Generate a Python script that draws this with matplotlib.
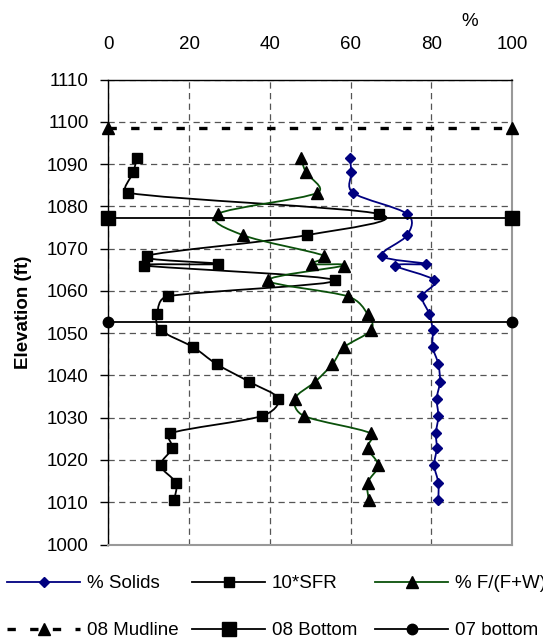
import numpy as np
import matplotlib
matplotlib.use("Agg")
import matplotlib.pyplot as plt
from matplotlib.path import Path
from matplotlib.patches import PathPatch
from matplotlib.lines import Line2D

plt.rcParams["font.family"] = ["Liberation Sans", "DejaVu Sans"]

# ---------------------------
# DATA
# ---------------------------
elevation = [1091.5, 1088.1, 1083.2, 1078.2, 1073.2, 1068.3, 1066.4, 1066.0,
             1062.5, 1058.7, 1054.5, 1050.7, 1046.7, 1042.7, 1038.5, 1034.5,
             1030.4, 1026.3, 1022.8, 1018.7, 1014.6, 1010.5]

pct_solids = [59.8, 60.2, 60.6, 74.0, 74.0, 67.7, 78.6, 71.0, 80.7, 77.7, 79.5,
              80.3, 80.3, 81.7, 82.1, 81.3, 81.7, 81.1, 81.3, 80.7, 81.7, 81.7]

sfr_x10 = [7.2, 6.2, 5.0, 67.0, 49.2, 9.5, 27.2, 8.9, 56.0, 14.7, 12.1,
           13.0, 21.0, 26.8, 34.9, 42.1, 38.0, 15.3, 15.8, 13.0, 16.7, 16.3]

pct_ffw = [47.6, 48.9, 51.7, 27.1, 33.3, 53.5, 50.5, 58.3, 39.6, 59.3, 64.2,
           65.0, 58.4, 55.5, 51.2, 46.2, 48.5, 65.0, 64.2, 66.8, 64.2, 64.5]

ref_x = [0, 100]
mudline_08 = 1098.6
bottom_08 = 1077.3
bottom_07 = 1052.6

x_ticks = [0, 20, 40, 60, 80, 100]
y_ticks = list(range(1000, 1111, 10))


def clamp(v, limit):
    m = np.hypot(*v)
    if m > limit and m > 0:
        return v * (limit / m)
    return v


def smooth_path(xs, ys):
    # excel-like smoothed line (catmull-rom beziers, handles capped on short segments)
    pts = np.column_stack([xs, ys])
    n = len(pts)
    verts = [pts[0]]
    codes = [Path.MOVETO]
    for i in range(n - 1):
        p0 = pts[max(i - 1, 0)]
        p1 = pts[i]
        p2 = pts[i + 1]
        p3 = pts[min(i + 2, n - 1)]
        seg = np.hypot(*(p2 - p1))
        c1 = p1 + clamp((p2 - p0) / 6.0, 0.5 * seg)
        c2 = p2 - clamp((p3 - p1) / 6.0, 0.5 * seg)
        verts += [c1, c2, p2]
        codes += [Path.CURVE4] * 3
    return Path(verts, codes)


fig = plt.figure(figsize=(5.43, 6.41), dpi=100)
ax = fig.add_axes([0.1994, 0.1505, 0.744, 0.7254])

# ---------------------------
# SERIES
# ---------------------------
series = [
    (pct_solids, "#000080", "#000080", "D", 5.6, "% Solids"),
    (sfr_x10, "black", "black", "s", 6.5, "10*SFR"),
    (pct_ffw, "#0A500A", "black", "^", 8, "% F/(F+W)"),
]

handles = []
for vals, lc, mc, mk, ms, lab in series:
    ax.add_patch(PathPatch(smooth_path(vals, elevation), fill=False,
                           edgecolor=lc, lw=1.3, zorder=3))
    ax.plot(vals, elevation, linestyle="none", marker=mk, ms=ms,
            color=mc, zorder=4, clip_on=False)
    handles.append(Line2D([], [], color=lc, lw=1.3, marker=mk, ms=ms,
                          markerfacecolor=mc, markeredgecolor=mc, label=lab))

mud, = ax.plot(ref_x, [mudline_08] * 2, color="black", lw=2.4,
               linestyle=(0, (2.5, 4.3)), marker="^", ms=9, clip_on=False,
               zorder=5, label="08 Mudline")
bot8, = ax.plot(ref_x, [bottom_08] * 2, color="black", lw=1.3, marker="s",
                ms=10, clip_on=False, zorder=5, label="08 Bottom")
bot7, = ax.plot(ref_x, [bottom_07] * 2, color="black", lw=1.3, marker="o",
                ms=7.5, clip_on=False, zorder=5, label="07 bottom")

# ---------------------------
# AXES
# ---------------------------
ax.set_xlim(0, 100)
ax.set_ylim(1000, 1110)
ax.set_xticks(x_ticks)
ax.set_yticks(y_ticks)
ax.xaxis.tick_top()
ax.xaxis.set_label_position("top")
ax.tick_params(axis="x", length=0, pad=19, labelsize=13.5)
ax.tick_params(axis="y", direction="out", length=5.5, width=1, pad=8.5,
               labelsize=13.5)
ax.grid(True, color="#555555", lw=0.9, linestyle=(0, (5, 3.5)), zorder=1)
ax.set_axisbelow(True)

for side in ["left", "top"]:
    ax.spines[side].set_color("black")
    ax.spines[side].set_linewidth(1.0)
for side in ["right", "bottom"]:
    ax.spines[side].set_color("#999999")
    ax.spines[side].set_linewidth(1.5)

ax.set_ylabel("Elevation (ft)", fontsize=13.5, fontweight="bold", labelpad=11)
ax.set_xlabel("%", fontsize=13.5, x=0.895, labelpad=7)

# ---------------------------
# LEGEND (three columns, two rows)
# ---------------------------
col_x = [7, 192, 375]
cols = [[handles[0], mud], [handles[1], bot8], [handles[2], bot7]]
for cx, hs in zip(col_x, cols):
    leg = fig.legend(handles=hs, loc="upper left",
                     bbox_to_anchor=(cx / 543, 1 - 575 / 641),
                     frameon=False, fontsize=13.5, handlelength=3.9,
                     handletextpad=0.35, labelspacing=1.6, borderpad=0,
                     borderaxespad=0, numpoints=1)

fig.savefig("out.png", dpi=100)
